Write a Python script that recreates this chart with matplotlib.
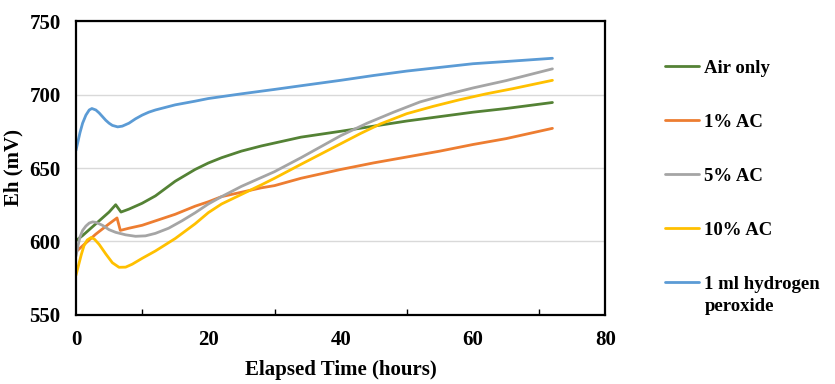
import matplotlib.pyplot as plt
from matplotlib.ticker import MultipleLocator

plt.rcParams['font.family'] = ['Liberation Serif', 'DejaVu Serif']
plt.rcParams['font.weight'] = 'bold'

# values (time in hours, Eh in mV)
air_t = [0, 1, 2, 3, 4, 5, 6.0, 6.8, 8, 10, 12, 15, 18, 20, 22, 25, 28, 31, 34, 37, 40, 45, 50, 55, 60, 65, 72]
air_eh = [600.5, 604, 608, 612, 616, 620, 625, 620, 622, 626, 631, 641, 649, 653.4, 657, 661.5, 665, 668, 671, 673, 675, 678.5, 682, 685, 688, 690.5, 694.6]

ac1_t = [0, 1, 2, 3, 4, 5, 6.2, 6.7, 8, 10, 12, 15, 18, 20, 22, 25, 28, 30, 34, 40, 45, 50, 55, 60, 65, 72]
ac1_eh = [593, 597, 601, 605, 608.5, 612, 616, 607.5, 609, 611, 614, 618.5, 624, 627, 630.5, 633.5, 636.5, 638, 643, 649, 653.5, 657.5, 661.5, 666, 670, 677]

ac5_t = [0, 0.3, 0.6, 1, 1.5, 2, 2.5, 3, 4, 5, 6, 7.5, 9, 10.5, 12, 14, 16, 18, 20, 22, 25, 28, 30, 34, 37, 40, 44, 48, 52, 56, 60, 65, 72]
ac5_eh = [590, 597, 603, 607.5, 610.5, 612.5, 613.3, 613, 611, 608, 606.2, 604.5, 603.5, 603.8, 605.5, 609, 614, 619.5, 625.5, 630.5, 637.5, 643.5, 647.5, 657, 664.5, 672, 680.5, 688, 695, 700, 704.5, 709.5, 717.5]

ac10_t = [0, 0.4, 0.8, 1.2, 1.7, 2.3, 2.8, 3.5, 4.5, 5.5, 6.5, 7.5, 8.5, 10, 12, 15, 18, 20, 22, 25, 28, 30, 34, 37, 40, 43, 46, 50, 54, 58, 62, 66, 72]
ac10_eh = [577, 584, 591, 597, 601, 602.7, 601.5, 598, 591.5, 585.5, 582.4, 582.5, 584.5, 588.5, 593.5, 602, 612, 619.6, 625.5, 632, 638.5, 643, 652.5, 659.5, 666.5, 673.5, 680, 687, 692, 696.5, 700.5, 704, 709.7]

h2o2_t = [0, 0.3, 0.6, 1, 1.5, 2, 2.4, 3, 3.5, 4, 4.5, 5, 5.5, 6.3, 7, 8, 9, 10, 11, 12, 15, 18, 20, 25, 30, 34, 40, 45, 50, 55, 60, 65, 72]
h2o2_eh = [662, 668, 674, 680.5, 686, 689.5, 690.5, 689.5, 687.5, 685, 682.5, 680.5, 679, 678, 678.5, 680.5, 683.5, 686, 688, 689.5, 693, 695.5, 697.3, 700.5, 703.5, 706, 709.7, 713, 716, 718.5, 721, 722.5, 724.7]

series = [
    ("Air only", air_t, air_eh, "#548235"),
    ("1% AC", ac1_t, ac1_eh, "#ED7D31"),
    ("5% AC", ac5_t, ac5_eh, "#A5A5A5"),
    ("10% AC", ac10_t, ac10_eh, "#FFC000"),
    ("1 ml hydrogen", h2o2_t, h2o2_eh, "#5B9BD5"),
]
# second line of the last legend label (handle sits on the first line)
last_label_cont = "peroxide"

fig = plt.figure(figsize=(8.35, 3.84), dpi=100)
ax = fig.add_axes([0.091, 0.18, 0.634, 0.765])

for label, t, eh, color in series:
    ax.plot(t, eh, color=color, lw=2, label=label, solid_capstyle='round')

ax.set_xlim(0, 80)
ax.set_ylim(550, 750)
ax.xaxis.set_major_locator(MultipleLocator(20))
ax.xaxis.set_minor_locator(MultipleLocator(10))
ax.yaxis.set_major_locator(MultipleLocator(50))
ax.tick_params(axis='x', which='major', length=0, pad=11, labelsize=15)
ax.tick_params(axis='x', which='minor', direction='in', length=4, width=1)
ax.tick_params(axis='y', length=0, pad=11, labelsize=15)
ax.grid(axis='y', color='#D9D9D9', lw=1)
ax.set_axisbelow(True)
for sp in ax.spines.values():
    sp.set_linewidth(1.6)
    sp.set_color('black')

ax.set_xlabel("Elapsed Time (hours)", fontsize=15, fontweight='bold', labelpad=7)
ax.set_ylabel("Eh (mV)", fontsize=15, fontweight='bold', labelpad=4)

leg = fig.legend(loc='upper left', bbox_to_anchor=(0.796, 0.845), frameon=False,
                 fontsize=13.5, labelspacing=1.97, handlelength=1.85, handletextpad=0.27,
                 borderaxespad=0, borderpad=0)
fig.canvas.draw()
ax.annotate(last_label_cont, xy=(0, 0), xycoords=leg.get_texts()[-1],
            xytext=(0, -4), textcoords='offset points', ha='left', va='top',
            fontsize=13.5, fontweight='bold', annotation_clip=False)

fig.savefig("out.png", dpi=100)
